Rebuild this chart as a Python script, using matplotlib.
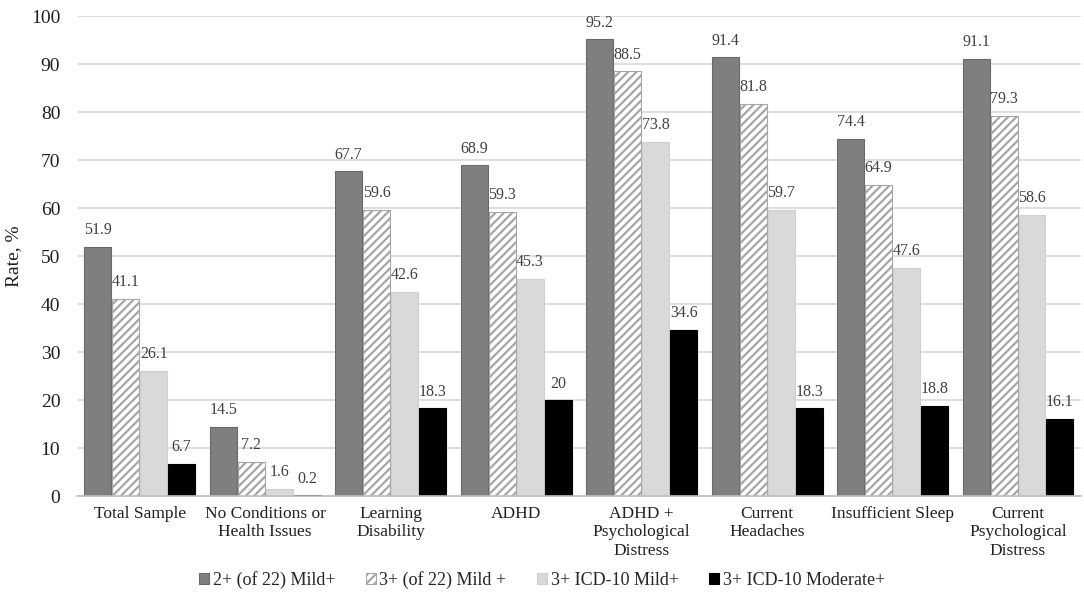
import numpy as np
import matplotlib.pyplot as plt

plt.rcParams['font.family'] = ['Liberation Serif', 'DejaVu Serif']
plt.rcParams['hatch.linewidth'] = 1.6

# categorias e valores
categorias = ['Total Sample', 'No Conditions or\nHealth Issues', 'Learning\nDisability', 'ADHD',
              'ADHD +\nPsychological\nDistress', 'Current\nHeadaches', 'Insufficient Sleep',
              'Current\nPsychological\nDistress']
series_nomes = ['2+ (of 22) Mild+', '3+ (of 22) Mild +', '3+ ICD-10 Mild+', '3+ ICD-10 Moderate+']
mild2 = [51.9, 14.5, 67.7, 68.9, 95.2, 91.4, 74.4, 91.1]
mild3 = [41.1, 7.2, 59.6, 59.3, 88.5, 81.8, 64.9, 79.3]
icd_mild = [26.1, 1.6, 42.6, 45.3, 73.8, 59.7, 47.6, 58.6]
icd_mod = [6.7, 0.2, 18.3, 20, 34.6, 18.3, 18.8, 16.1]

fig = plt.figure(figsize=(10.84, 6), dpi=100)
ax = fig.add_axes([0.071, 0.173, 0.926, 0.8])

x = np.arange(len(categorias))
largura = 0.215
passo = 0.223

estilos = [
    dict(color='#7f7f7f', edgecolor='#6a6a6a'),
    dict(color='white', edgecolor='#a6a6a6', hatch='////'),
    dict(color='#d9d9d9', edgecolor='#cfcfcf'),
    dict(color='#000000', edgecolor='#000000'),
]

for i, (valores, nome, est) in enumerate(zip([mild2, mild3, icd_mild, icd_mod], series_nomes, estilos)):
    pos = x + (i - 1.5) * passo
    barras = ax.bar(pos, valores, largura, label=nome, linewidth=0.8, **est)
    for b, v in zip(barras, valores):
        ax.text(b.get_x() + b.get_width() / 2, v + 1.8, f'{v:g}', ha='center', va='bottom',
                fontsize=11.5, color='#404040')

ax.set_xlim(-0.5, len(categorias) - 0.5)
ax.set_ylim(0, 100)
ax.set_yticks(range(0, 101, 10))
ax.set_xticks(x)
ax.set_xticklabels(categorias, fontsize=12.5, color='#202020', linespacing=1.2)
ax.tick_params(axis='y', labelsize=14, length=0, pad=12, colors='#202020')
ax.tick_params(axis='x', length=0, pad=7)
ax.yaxis.grid(True, color='#d9d9d9', linewidth=1.2)
ax.set_axisbelow(True)
for s in ['top', 'right', 'left']:
    ax.spines[s].set_visible(False)
ax.spines['bottom'].set_color('#bfbfbf')
ax.spines['bottom'].set_linewidth(1.2)
ax.set_ylabel('Rate, %', fontsize=14, color='#202020')
ax.yaxis.set_label_coords(-0.055, 0.5)

fig.legend(loc='center', bbox_to_anchor=(0.5, 0.033), ncol=4, frameon=False, fontsize=13,
           handlelength=0.55, handleheight=0.55, handletextpad=0.2, columnspacing=1.7,
           labelcolor='#262626')

plt.savefig('out.png', dpi=100)
